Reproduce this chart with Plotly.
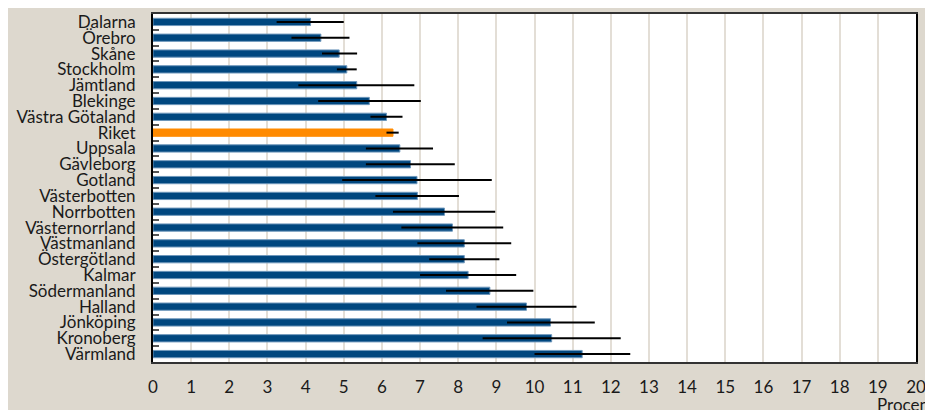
import plotly.graph_objects as go

categories = ["Dalarna", "Örebro", "Skåne", "Stockholm", "Jämtland", "Blekinge",
              "Västra Götaland", "Riket", "Uppsala", "Gävleborg", "Gotland",
              "Västerbotten", "Norrbotten", "Västernorrland", "Västmanland",
              "Östergötland", "Kalmar", "Södermanland", "Halland", "Jönköping",
              "Kronoberg", "Värmland"]
values = [4.13, 4.40, 4.88, 5.08, 5.34, 5.67, 6.12, 6.29, 6.47, 6.75, 6.92,
          6.93, 7.64, 7.85, 8.16, 8.16, 8.26, 8.83, 9.79, 10.42, 10.45, 11.25]
lower = [3.24, 3.63, 4.43, 4.82, 3.81, 4.33, 5.70, 6.12, 5.58, 5.58, 4.96,
         5.83, 6.29, 6.51, 6.93, 7.24, 7.00, 7.68, 8.48, 9.28, 8.64, 10.00]
upper = [5.00, 5.15, 5.35, 5.34, 6.85, 7.02, 6.54, 6.44, 7.34, 7.91, 8.88,
         8.02, 8.97, 9.18, 9.39, 9.08, 9.52, 9.97, 11.10, 11.58, 12.26, 12.51]
x_ticks = list(range(0, 21))

blue = "#00477f"
orange = "#ff8a00"
colors = [orange if c == "Riket" else blue for c in categories]
line_colors = [orange if c == "Riket" else "#6e97bb" for c in categories]

fig = go.Figure()
fig.add_trace(go.Bar(
    y=categories, x=values, orientation="h",
    width=0.46,
    marker=dict(color=colors, line=dict(color=line_colors, width=1)),
    error_x=dict(type="data", symmetric=False,
                 array=[u - v for u, v in zip(upper, values)],
                 arrayminus=[v - l for v, l in zip(values, lower)],
                 color="black", thickness=2, width=0),
    hoverinfo="skip",
))

bg = "#ddd8ce"
font = "Lato, 'Open Sans', sans-serif"
fs = 17
fig.update_layout(
    width=925, height=402,
    margin=dict(l=145, r=17, t=6, b=48),
    paper_bgcolor=bg, plot_bgcolor="white",
    showlegend=False,
    font=dict(family=font, size=fs, color="#1a1a1a"),
)
fig.update_xaxes(
    range=[0, 20], tickmode="array", tickvals=x_ticks,
    ticktext=[str(t) for t in x_ticks],
    showgrid=True, gridcolor="#e3ded6", gridwidth=1.5,
    showline=True, linecolor="#333333", linewidth=2, mirror=True,
    ticks="", ticklabelstandoff=9, zeroline=False, automargin=False,
    tickfont=dict(size=fs),
)
fig.update_yaxes(
    categoryorder="array", categoryarray=categories, autorange="reversed",
    tickmode="array", tickvals=categories, ticktext=categories,
    showline=True, linecolor="black", linewidth=2, mirror=True,
    ticks="inside", tickson="boundaries", ticklen=6, tickcolor="#555555",
    tickwidth=1.5, showgrid=False, ticklabelstandoff=12, automargin=False,
    tickfont=dict(size=fs),
)
fig.add_annotation(text="Procent", xref="paper", yref="paper",
                   x=0.946, y=-0.086, xanchor="left", yanchor="top",
                   showarrow=False, font=dict(size=fs, family=font))

fig.write_html("out.html")
